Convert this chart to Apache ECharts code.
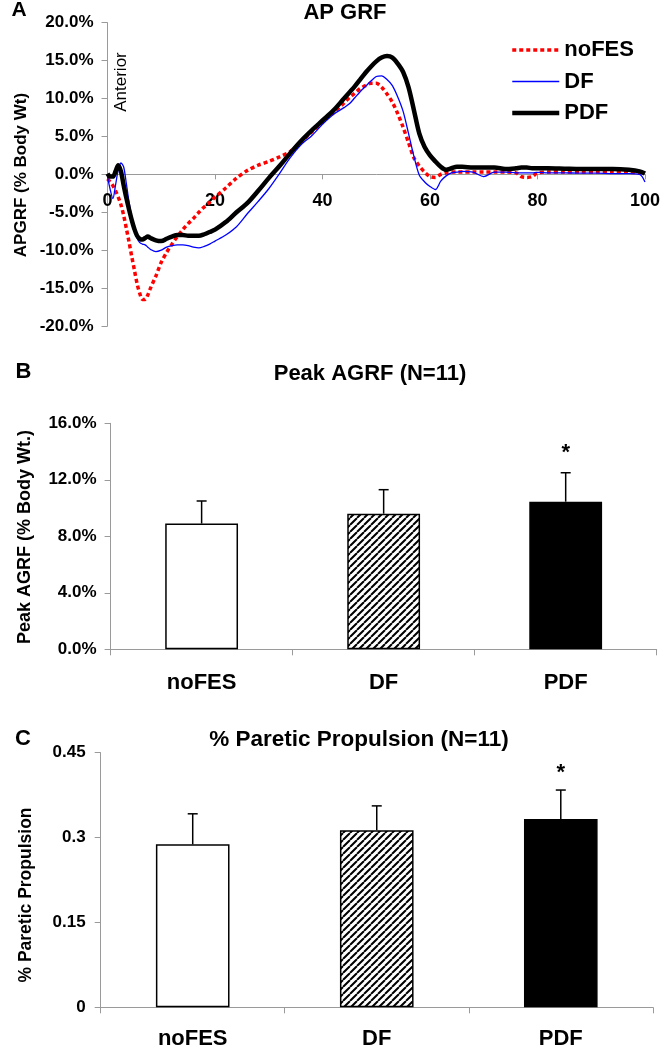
<!DOCTYPE html>
<html><head><meta charset="utf-8">
<script src="https://cdn.jsdelivr.net/npm/echarts/dist/echarts.min.js"></script>
<style>html,body{margin:0;padding:0;background:#fff}#c{width:669px;height:1050px}</style>
</head><body><div id="c"></div>
<script>
const FONT = '"Liberation Sans", Arial, sans-serif';

// ---------- Panel A: AP GRF (% gait cycle vs % body weight) ----------
const gaitPct = [0,0.5,1,1.5,2,2.5,3,3.5,4,4.5,5,5.5,6,6.5,7,7.5,8,
  9,10,11,12,13,14,15,16,17,18,19,20,
  22,24,26,28,30,32,34,36,38,40,42,44,
  45,46,47,48,49,50,51,52,53,54,55,56,57,58,59,60,61,62,63,64,65,66,
  68,70,72,74,76,77,78,79,80,82,85,88,91,94,97,99,100];
const apNoFES = [-0.6,-1.0,-1.5,-2.2,-3.0,-4.0,-5.4,-7.1,-8.9,-10.8,-12.6,-14.4,-15.7,-16.5,-16.5,-15.9,-15.0,
  -13.4,-11.6,-10.3,-9.2,-8.2,-7.3,-6.5,-5.8,-5.0,-4.3,-3.7,-3.0,
  -1.8,-0.5,0.5,1.2,1.7,2.3,3.0,4.3,5.6,6.9,8.1,9.4,
  10.1,10.7,11.3,11.7,12.0,12.0,11.5,10.6,9.5,8.0,6.2,4.2,2.2,1.1,0.3,-0.3,-0.4,0.0,0.2,0.3,0.3,0.3,
  0.3,0.3,0.3,0.3,0.2,-0.3,-0.4,-0.3,0.2,0.3,0.3,0.3,0.3,0.3,0.3,0.2,0.2];
const apDF = [-0.3,-2.0,-3.2,-1.4,0.6,1.5,1.0,-1.2,-3.6,-5.6,-7.1,-8.4,-9.0,-9.2,-9.3,-9.6,-9.9,
  -10.2,-10.0,-9.6,-9.4,-9.3,-9.3,-9.4,-9.6,-9.7,-9.5,-9.2,-8.8,
  -8.0,-6.9,-5.2,-3.6,-1.9,0.1,2.2,3.9,5.1,6.6,7.9,8.8,
  9.3,10.1,10.9,11.6,12.3,12.9,13.0,12.5,11.7,10.2,8.3,5.4,2.4,-0.1,-1.0,-1.6,-2.0,-0.9,-0.2,0.2,0.3,0.4,
  0.3,-0.3,0.3,0.3,0.2,0.2,0.2,0.2,0.25,0.2,0.2,0.15,0.15,0.1,0.1,0.0,-1.0];
const apPDF = [0.1,-0.3,-0.3,0.4,1.2,0.4,-1.4,-3.1,-4.6,-6.0,-7.2,-8.1,-8.5,-8.6,-8.4,-8.2,-8.4,
  -8.7,-8.8,-8.5,-8.2,-8.0,-8.0,-8.1,-8.1,-8.1,-7.9,-7.6,-7.3,
  -6.3,-5.0,-3.8,-2.2,-0.5,1.1,2.8,4.4,5.8,7.1,8.4,10.0,
  10.8,11.6,12.5,13.4,14.2,14.9,15.4,15.6,15.4,14.6,13.5,11.5,8.5,5.4,3.6,2.5,1.7,1.0,0.6,0.8,1.0,1.0,
  0.9,0.9,0.9,0.7,0.8,0.9,0.9,0.8,0.8,0.8,0.75,0.7,0.7,0.7,0.6,0.4,0.1];
const apSeriesNames = ['noFES','DF','PDF'];
const apYRange = [-20, 20, 5];
const apXRange = [0, 100, 20];

// ---------- Panel B: Peak AGRF ----------
const categories = ['noFES','DF','PDF'];
const peakMean = [8.9, 9.6, 10.45];
const peakSD   = [1.6, 1.7, 2.05];
const peakSig  = [0, 0, 1];
const peakYRange = [0, 16, 4];

// ---------- Panel C: % Paretic Propulsion ----------
const propMean = [0.288, 0.313, 0.333];
const propSD   = [0.054, 0.043, 0.051];
const propSig  = [0, 0, 1];
const propYRange = [0, 0.45, 0.15];

const AXIS_GRAY = '#9a9a9a';

function hatchPattern() {
  const p = 7;
  const c = document.createElement('canvas');
  c.width = p; c.height = p;
  const g = c.getContext('2d');
  g.fillStyle = '#fff'; g.fillRect(0, 0, p, p);
  g.strokeStyle = '#000'; g.lineWidth = 2;
  g.beginPath();
  for (const k of [-p, 0, p]) { g.moveTo(k, p); g.lineTo(k + p, 0); }
  g.stroke();
  return { image: c, repeat: 'repeat' };
}
const barFills = ['#ffffff', hatchPattern(), '#000000'];

function errRender(starOffset) {
  return function (params, api) {
    const i = api.value(0), m = api.value(1), s = api.value(2), sig = api.value(3);
    const base = api.coord([i, m]);
    const top = api.coord([i, m + s]);
    const st = { stroke: '#000', lineWidth: 1.5 };
    const children = [
      { type: 'line', shape: { x1: base[0], y1: base[1], x2: top[0], y2: top[1] }, style: st },
      { type: 'line', shape: { x1: top[0] - 5, y1: top[1], x2: top[0] + 5, y2: top[1] }, style: st }
    ];
    if (sig) children.push({ type: 'text', x: top[0], y: top[1] + starOffset,
      style: { text: '*', font: 'bold 22px ' + FONT, fill: '#000', align: 'center', verticalAlign: 'middle' } });
    return { type: 'group', children };
  };
}

function valueYAxis(gridIndex, range, fmt, margin) {
  return {
    type: 'value', gridIndex, min: range[0], max: range[1], interval: range[2],
    axisLine: { show: true, lineStyle: { color: AXIS_GRAY, width: 1 } },
    axisTick: { show: true, length: 6, lineStyle: { color: AXIS_GRAY } },
    splitLine: { show: false },
    axisLabel: { formatter: fmt, color: '#000', fontFamily: FONT, fontWeight: 'bold', fontSize: 17, margin }
  };
}
function catXAxis(gridIndex, margin) {
  return {
    type: 'category', gridIndex, data: categories, boundaryGap: true,
    axisLine: { show: true, lineStyle: { color: AXIS_GRAY, width: 1 } },
    axisTick: { show: true, length: 6, lineStyle: { color: AXIS_GRAY } },
    axisLabel: { color: '#000', fontFamily: FONT, fontWeight: 'bold', fontSize: 22, margin }
  };
}
function barSeries(idx, means) {
  return {
    type: 'bar', xAxisIndex: idx, yAxisIndex: idx, barWidth: '40%',
    data: means.map((v, i) => ({ value: v, itemStyle: { color: barFills[i], borderColor: '#000', borderWidth: 1.5 } })),
    z: 2
  };
}
function errSeries(idx, means, sds, sig, starOffset) {
  return {
    type: 'custom', xAxisIndex: idx, yAxisIndex: idx, z: 3,
    renderItem: errRender(starOffset),
    encode: { x: 0, y: 1 },
    data: means.map((v, i) => [i, v, sds[i], sig[i]])
  };
}

const textEl = (x, y, text, size, weight, rot) => ({
  type: 'text', x, y, rotation: rot || 0,
  style: { text, font: weight + ' ' + size + 'px ' + FONT, fill: '#000', align: 'center', verticalAlign: 'middle' }
});

const chart = echarts.init(document.getElementById('c'), null, { renderer: 'canvas' });
const lineColors = ['#ff0000', '#0000ff', '#000000'];
const lineWidths = [3.5, 1.3, 4.5];
const lineTypes = [[4, 3], 'solid', 'solid'];
const apData = [apNoFES, apDF, apPDF];

// x-axis of panel A sits on the zero line of its y scale
const gridAHeight = 303.3;
const zeroOffsetA = -gridAHeight * (0 - apYRange[0]) / (apYRange[1] - apYRange[0]);

chart.setOption({
  animation: false,
  backgroundColor: '#fff',
  grid: [
    { left: 107.5, right: 24, top: 22.7, height: gridAHeight },
    { left: 110.6, right: 12.3, top: 423.3, height: 226 },
    { left: 100.7, right: 16.2, top: 752.7, height: 255.6 }
  ],
  legend: {
    data: apSeriesNames, orient: 'vertical', left: 505, top: 34,
    itemWidth: 47, itemHeight: 14, itemGap: 9.5,
    itemStyle: { opacity: 0 },
    lineStyle: { width: 'inherit', type: 'inherit' },
    textStyle: { color: '#000', fontFamily: FONT, fontWeight: 'bold', fontSize: 22, lineHeight: 22 }
  },
  xAxis: [
    {
      type: 'value', gridIndex: 0, min: apXRange[0], max: apXRange[1], interval: apXRange[2],
      position: 'bottom', offset: zeroOffsetA,
      axisLine: { show: true, onZero: false, lineStyle: { color: AXIS_GRAY, width: 1 } },
      axisTick: { show: true, length: 5, lineStyle: { color: AXIS_GRAY } },
      splitLine: { show: false },
      axisLabel: { color: '#000', fontFamily: FONT, fontWeight: 'bold', fontSize: 18, margin: 18 }
    },
    catXAxis(1, 22.7),
    catXAxis(2, 20.7)
  ],
  yAxis: [
    valueYAxis(0, apYRange, v => v.toFixed(1) + '%', 14),
    valueYAxis(1, peakYRange, v => v.toFixed(1) + '%', 14),
    valueYAxis(2, propYRange, null, 15)
  ],
  series: [
    ...apSeriesNames.map((name, k) => ({
      name, type: 'line', xAxisIndex: 0, yAxisIndex: 0,
      data: gaitPct.map((x, i) => [x, apData[k][i]]),
      symbol: 'none', showSymbol: false, smooth: 0.3,
      lineStyle: { color: lineColors[k], width: lineWidths[k], type: lineTypes[k] },
      itemStyle: { color: lineColors[k] },
      z: 3 + k
    })),
    barSeries(1, peakMean),
    errSeries(1, peakMean, peakSD, peakSig, -20),
    barSeries(2, propMean),
    errSeries(2, propMean, propSD, propSig, -17)
  ],
  graphic: [
    textEl(19, 10, 'A', 21, 'bold'),
    textEl(345, 12.8, 'AP GRF', 22, 'bold'),
    textEl(21.7, 175, 'APGRF (% Body Wt)', 17, 'bold', Math.PI / 2),
    textEl(121.5, 82, 'Anterior', 17, 'normal', Math.PI / 2),
    textEl(23.5, 372, 'B', 22, 'bold'),
    textEl(370, 374, 'Peak AGRF (N=11)', 22, 'bold'),
    textEl(25.5, 537, 'Peak AGRF (% Body Wt.)', 18, 'bold', Math.PI / 2),
    textEl(23, 738.5, 'C', 22, 'bold'),
    textEl(359, 740, '% Paretic Propulsion (N=11)', 22.5, 'bold'),
    textEl(25.7, 895, '% Paretic Propulsion', 17.5, 'bold', Math.PI / 2)
  ]
});
</script></body></html>
